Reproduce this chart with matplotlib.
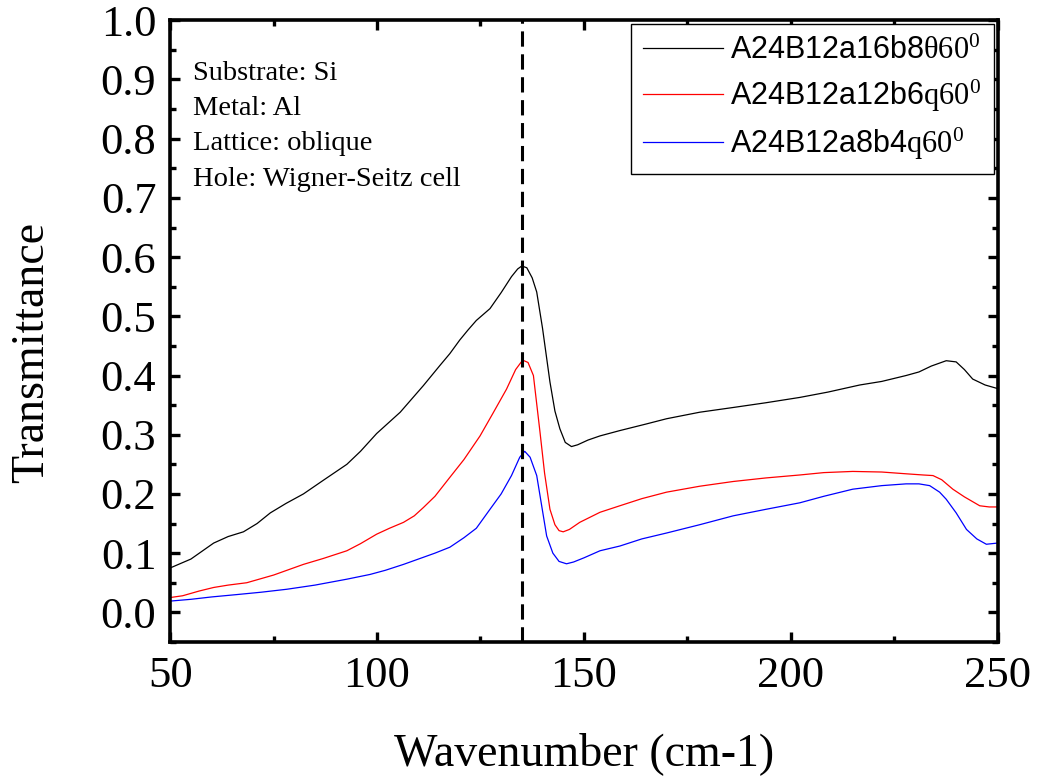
import matplotlib
matplotlib.use('Agg')
import matplotlib.pyplot as plt
from matplotlib.ticker import MultipleLocator

plt.rcParams['font.family'] = 'Liberation Serif'
plt.rcParams['mathtext.fontset'] = 'custom'
plt.rcParams['mathtext.rm'] = 'Liberation Serif'
plt.rcParams['mathtext.it'] = 'Liberation Serif:italic'

# values
x_black = [50, 55, 60.5, 64, 67.7, 71, 74.2, 78, 82.2, 87, 92.7, 96, 99.9, 105.6,
           111.2, 115.2, 117.6, 120, 122, 124, 127.3, 130, 132.5, 134, 135, 136.2,
           137.5, 138.6, 140, 141.8, 143, 144.2, 145.5, 147, 148.5, 151, 153.9,
           158.7, 165, 170, 178, 186.1, 194, 202.2, 209, 216.7, 222, 227.9, 231,
           234, 237.6, 240, 242, 244, 247, 250]
t_black = [0.075, 0.09, 0.117, 0.128, 0.136, 0.150, 0.168, 0.184, 0.200, 0.223,
           0.250, 0.272, 0.302, 0.338, 0.383, 0.417, 0.437, 0.460, 0.477, 0.493,
           0.513, 0.540, 0.567, 0.580, 0.585, 0.582, 0.565, 0.541, 0.480, 0.389,
           0.340, 0.310, 0.287, 0.280, 0.283, 0.291, 0.298, 0.307, 0.318, 0.327,
           0.338, 0.346, 0.354, 0.363, 0.372, 0.384, 0.390, 0.400, 0.406, 0.416,
           0.425, 0.423, 0.410, 0.394, 0.384, 0.378]

x_red = [50, 53, 57, 60.5, 64, 68.5, 75, 82.2, 87, 92.7, 96, 99.9, 103, 106.4, 109,
         111.2, 114, 117.6, 121, 124.9, 128, 131.3, 133.5, 135.2, 136.5, 137.8,
         139.4, 140.5, 141.8, 143, 144, 145, 146.5, 149, 153.9, 158.7, 164, 170,
         178, 186.1, 194, 202.2, 208, 215, 222, 227.9, 232, 234.4, 236.5, 239.2,
         242, 245.7, 248, 250]
t_red = [0.025, 0.028, 0.036, 0.042, 0.046, 0.050, 0.063, 0.081, 0.091, 0.104,
         0.116, 0.132, 0.142, 0.152, 0.163, 0.177, 0.196, 0.228, 0.258, 0.298,
         0.336, 0.377, 0.410, 0.426, 0.422, 0.400, 0.304, 0.235, 0.174, 0.148,
         0.138, 0.136, 0.140, 0.152, 0.169, 0.180, 0.192, 0.203, 0.213, 0.221,
         0.227, 0.232, 0.236, 0.238, 0.237, 0.234, 0.232, 0.231, 0.224, 0.208,
         0.195, 0.180, 0.178, 0.178]

x_blue = [50, 55, 60, 66.1, 72, 78.2, 85, 92.7, 98.3, 102, 106.4, 111.2, 114, 117.6,
          121, 124, 127.3, 130, 132.5, 134.5, 135.7, 137, 138.6, 139.8, 141, 142.5,
          144, 145.8, 147.5, 150, 153.9, 158.7, 164, 170, 178, 186.1, 194, 202.2,
          208, 215, 222, 227.9, 231, 233.6, 236, 237.6, 240, 242.5, 245, 247.3, 250]
t_blue = [0.019, 0.022, 0.026, 0.030, 0.034, 0.039, 0.046, 0.056, 0.064, 0.071,
          0.081, 0.093, 0.100, 0.110, 0.126, 0.142, 0.174, 0.200, 0.231, 0.262,
          0.272, 0.262, 0.231, 0.180, 0.129, 0.100, 0.086, 0.082, 0.085, 0.092,
          0.104, 0.112, 0.124, 0.134, 0.148, 0.163, 0.174, 0.185, 0.196, 0.208,
          0.214, 0.217, 0.217, 0.214, 0.203, 0.191, 0.168, 0.140, 0.124, 0.115,
          0.117]

labels = [r'A24B12a16b8$\mathrm{\theta60^0}$',
          r'A24B12a12b6$\mathrm{q60^0}$',
          r'A24B12a8b4$\mathrm{q60^0}$']
colors = ['black', '#ff0000', '#0000ff']
x_marker = 135
notes = ['Substrate: Si', 'Metal: Al', 'Lattice: oblique', 'Hole: Wigner-Seitz cell']

fig = plt.figure(figsize=(10.38, 7.8), dpi=100)
ax = fig.add_axes([0.164, 0.177, 0.797, 0.797])

series = [(x_black, t_black), (x_red, t_red), (x_blue, t_blue)]
for (xs, ts), lab, col in zip(series, labels, colors):
    ax.plot(xs, ts, color=col, lw=0.9, label=lab)

ax.axvline(x_marker, color='black', lw=2.2, dashes=(5, 2.5))

ax.set_xlim(50, 250)
ax.set_ylim(-0.05, 1.0)
ax.xaxis.set_major_locator(MultipleLocator(50))
ax.xaxis.set_minor_locator(MultipleLocator(25))
ax.yaxis.set_minor_locator(MultipleLocator(0.05))
ax.set_yticks([i / 10 for i in range(11)])
ax.set_yticklabels(['%.1f' % (i / 10) for i in range(11)])

for side in ax.spines.values():
    side.set_linewidth(2.6)
ax.tick_params(which='both', direction='in', top=True, right=True, width=2.4)
ax.tick_params(which='major', length=7, labelsize=32, pad=10)
ax.tick_params(which='minor', length=4.5)

ax.set_xlabel('Wavenumber (cm-1)', fontsize=33, labelpad=26)
ax.set_ylabel('Transmittance', fontsize=33)
ax.yaxis.set_label_coords(-0.141, 0.466)

ax.text(0.027, 0.934, '\n'.join(notes), transform=ax.transAxes, fontsize=20.5,
        va='top', ha='left', linespacing=1.53)

leg = ax.legend(loc='upper right', prop={'family': 'Liberation Sans', 'size': 22},
                fancybox=False, edgecolor='black', framealpha=1,
                handlelength=2.6, handletextpad=0.25, labelspacing=0.38,
                borderaxespad=0.12, borderpad=0.4)
leg.get_frame().set_linewidth(1.0)

fig.savefig('out.png', dpi=100)
